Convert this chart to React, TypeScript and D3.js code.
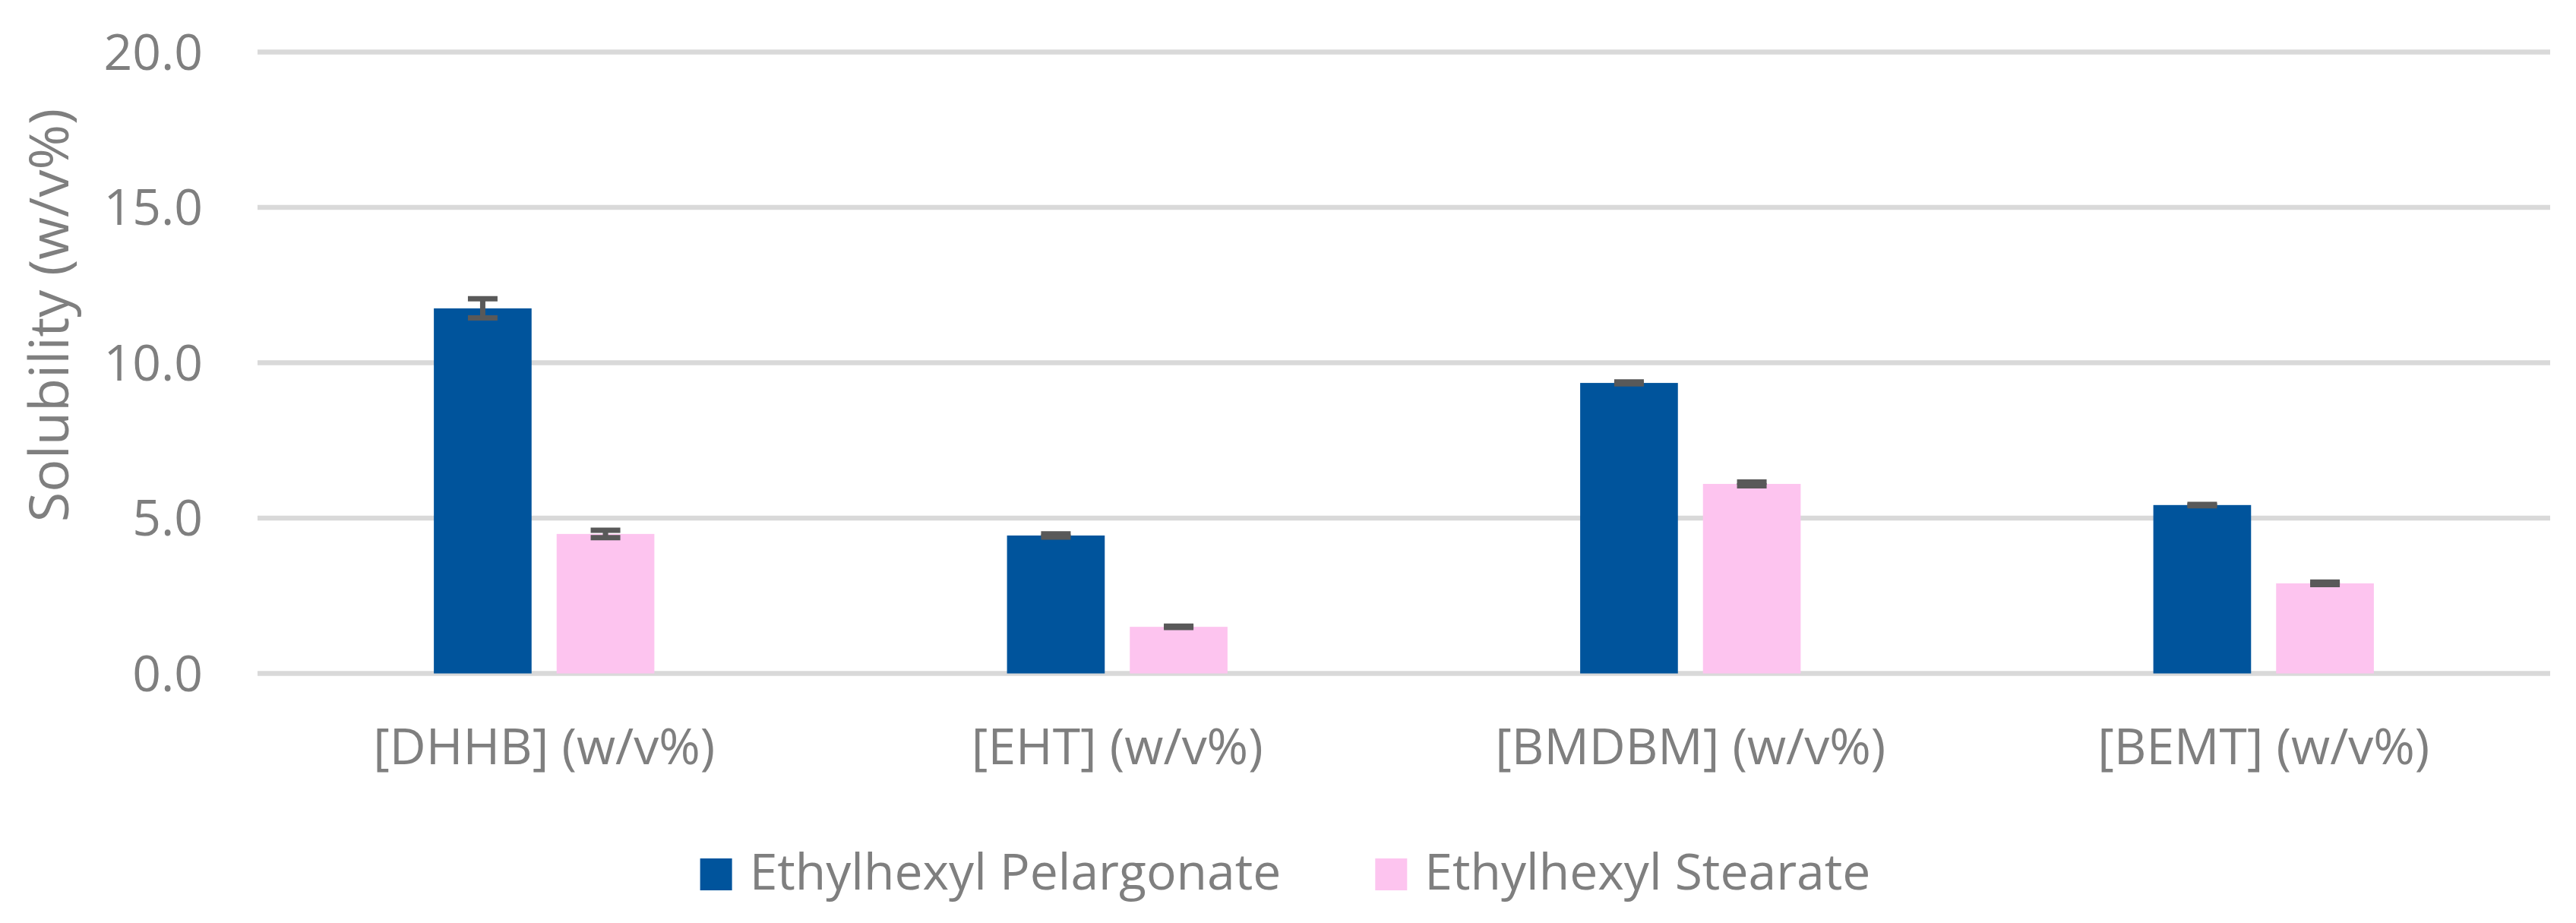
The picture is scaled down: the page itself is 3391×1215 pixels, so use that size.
import React, { useEffect, useRef } from "react";
import * as d3 from "d3";

const categories = ["[DHHB] (w/v%)", "[EHT] (w/v%)", "[BMDBM] (w/v%)", "[BEMT] (w/v%)"];
const seriesNames = ["Ethylhexyl Pelargonate", "Ethylhexyl Stearate"];
const pelargonate = [11.75, 4.44, 9.35, 5.42];
const stearate = [4.49, 1.5, 6.1, 2.9];
const pelargonateErr = [0.31, 0.05, 0.03, 0.02];
const stearateErr = [0.12, 0.02, 0.06, 0.04];
const yTicks = [0, 5, 10, 15, 20];
const yTitle = "Solubility (w/v%)";
const colors = ["#00549C", "#FDC4EF"];

const W = 3391;
const H = 1215;
const FONT = "'Open Sans', 'Noto Sans', sans-serif";
const TEXT = "#7F7F7F";

export default function App() {
  const ref = useRef<SVGSVGElement | null>(null);

  useEffect(() => {
    const svg = d3.select(ref.current);
    svg.selectAll("*").remove();

    const y = d3.scaleLinear().domain([0, 20]).range([886.5, 68.5]);
    const x0 = d3.scaleBand<string>().domain(categories).range([339, 3357]);
    const x1 = d3
      .scaleBand<string>()
      .domain(seriesNames)
      .range([0, x0.bandwidth()])
      .paddingInner(0.204)
      .paddingOuter(1.436);

    svg.append("rect").attr("width", W).attr("height", H).attr("fill", "#fff");

    // gridlines
    svg
      .append("g")
      .selectAll("line")
      .data(yTicks)
      .join("line")
      .attr("x1", 339)
      .attr("x2", 3357)
      .attr("y1", (d) => y(d))
      .attr("y2", (d) => y(d))
      .attr("stroke", "#D9D9D9")
      .attr("stroke-width", 6.5);

    // tick labels
    svg
      .append("g")
      .selectAll("text")
      .data(yTicks)
      .join("text")
      .attr("x", 267)
      .attr("y", (d) => y(d))
      .attr("dy", "0.35em")
      .attr("text-anchor", "end")
      .attr("font-family", FONT)
      .attr("font-size", 66)
      .attr("fill", TEXT)
      .text((d) => d3.format(".1f")(d));

    // y title
    svg
      .append("text")
      .attr("transform", `translate(90,415) rotate(-90)`)
      .attr("text-anchor", "middle")
      .attr("font-family", FONT)
      .attr("font-size", 72)
      .attr("fill", TEXT)
      .text(yTitle);

    const series = [
      { name: seriesNames[0], values: pelargonate, errs: pelargonateErr, color: colors[0] },
      { name: seriesNames[1], values: stearate, errs: stearateErr, color: colors[1] },
    ];

    // bars
    series.forEach((s) => {
      svg
        .append("g")
        .selectAll("rect")
        .data(categories)
        .join("rect")
        .attr("x", (c) => (x0(c) as number) + (x1(s.name) as number))
        .attr("y", (_c, i) => y(s.values[i]))
        .attr("width", x1.bandwidth())
        .attr("height", (_c, i) => y(0) - y(s.values[i]))
        .attr("fill", s.color);
    });

    // error bars
    const capW = 39;
    series.forEach((s) => {
      const g = svg.append("g").attr("stroke", "#595959").attr("stroke-width", 7);
      categories.forEach((c, i) => {
        const cx = (x0(c) as number) + (x1(s.name) as number) + x1.bandwidth() / 2;
        const hi = y(s.values[i] + s.errs[i]);
        const lo = y(s.values[i] - s.errs[i]);
        g.append("line").attr("x1", cx).attr("x2", cx).attr("y1", hi).attr("y2", lo);
        g.append("line").attr("x1", cx - capW / 2).attr("x2", cx + capW / 2).attr("y1", hi).attr("y2", hi);
        g.append("line").attr("x1", cx - capW / 2).attr("x2", cx + capW / 2).attr("y1", lo).attr("y2", lo);
      });
    });

    // x labels
    svg
      .append("g")
      .selectAll("text")
      .data(categories)
      .join("text")
      .attr("x", (c) => (x0(c) as number) + x0.bandwidth() / 2)
      .attr("y", 1006)
      .attr("text-anchor", "middle")
      .attr("font-family", FONT)
      .attr("font-size", 66)
      .attr("fill", TEXT)
      .text((c) => c);

    // legend
    const leg = svg.append("g");
    const sq = 42;
    const gapSqText = 23;
    const gapItems = 124;
    const items = series.map((s) => {
      const g = leg.append("g");
      g.append("rect").attr("width", sq).attr("height", sq).attr("y", -sq + 1).attr("fill", s.color);
      const t = g
        .append("text")
        .attr("x", sq + gapSqText)
        .attr("y", 0)
        .attr("font-family", FONT)
        .attr("font-size", 66)
        .attr("fill", TEXT)
        .text(s.name);
      const tw = (t.node() as SVGTextElement).getComputedTextLength();
      return { g, w: sq + gapSqText + tw };
    });
    const total = items.reduce((a, b) => a + b.w, 0) + gapItems * (items.length - 1);
    let cx = 1692 - total / 2;
    items.forEach((it) => {
      it.g.attr("transform", `translate(${cx},1171)`);
      cx += it.w + gapItems;
    });
  }, []);

  return (
    <svg
      ref={ref}
      width={W}
      height={H}
      style={{ position: "absolute", left: 0, top: 0, display: "block" }}
    />
  );
}
